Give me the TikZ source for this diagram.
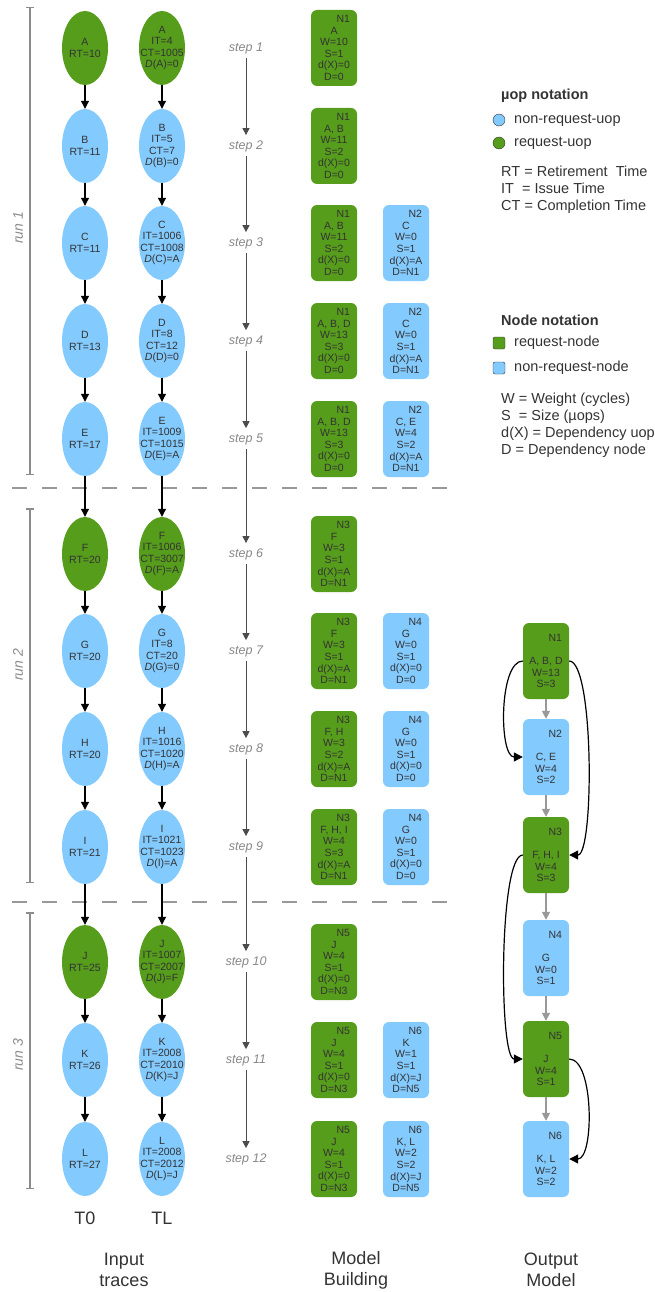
\documentclass[tikz,border=0pt]{standalone}
\usepackage{fontspec}
\setmainfont{Liberation Sans}
\usetikzlibrary{shapes,arrows.meta}
\definecolor{reqgreen}{HTML}{579D1C}
\definecolor{nreqblue}{HTML}{83CAFF}
\definecolor{txtgray}{HTML}{333333}
\definecolor{lightgray}{HTML}{8C8C8C}
\newcommand{\nid}[1]{\makebox[32pt][r]{#1}}

\begin{document}
\begin{tikzpicture}[x=1pt,y=-1pt,
  uop/.style={ellipse,minimum width=46,minimum height=74,inner sep=0},
  requop/.style={uop,fill=reqgreen},
  nrequop/.style={uop,fill=nreqblue},
  utxt/.style={align=center,inner sep=0,text=txtgray,font=\fontsize{10.5}{11.6}\selectfont},
  mnode/.style={rounded corners=6,minimum width=46,minimum height=76,inner sep=0,align=center,text=txtgray,font=\fontsize{10.5}{11.6}\selectfont},
  reqnode/.style={mnode,fill=reqgreen},
  nreqnode/.style={mnode,fill=nreqblue},
  uarrow/.style={-{Triangle[length=8pt,width=8pt]},line width=1.1},
  stp/.style={inner sep=3,text=black!47,font=\fontsize{12.5}{14}\selectfont\itshape},
  sarrow/.style={-{Triangle[length=7pt,width=7pt]},line width=1,draw=black!70,shorten <=1,shorten >=2},
  oarrow/.style={-{Triangle[length=8pt,width=8pt]},line width=1.5,draw=black!40},
  dep/.style={-{Triangle[length=9pt,width=9pt]},line width=1.2},
  runline/.style={draw=lightgray,line width=1.5,{Bar[width=8pt]}-{Bar[width=8pt]}},
  runlbl/.style={rotate=90,text=lightgray,font=\fontsize{14}{16}\selectfont\itshape},
  sep/.style={draw=black!40,line width=1.8,dash pattern=on 15pt off 15pt},
  lgtitle/.style={anchor=west,inner sep=0,text=txtgray,font=\fontsize{14.5}{16.5}\selectfont\bfseries},
  lgtxt/.style={anchor=west,inner sep=0,text=txtgray,font=\fontsize{14.5}{16.8}\selectfont},
  colname/.style={align=center,inner sep=0,text=txtgray,font=\fontsize{18}{21}\selectfont}]
\useasboundingbox (0,0) rectangle (655,1292);
% runs
\draw[runline] (30,7) -- (30,475);
\draw[runline] (30,508) -- (30,883);
\draw[runline] (30,912) -- (30,1189);
\node[runlbl] (run1) at (18,228) {run 1};
\node[runlbl] (run2) at (18,665) {run 2};
\node[runlbl] (run3) at (18,1055) {run 3};
\draw[sep] (12,488) -- (448,488);
\draw[sep] (12,902) -- (448,902);
%
% input traces T0
\node[requop,label={[utxt]center:{A\\RT=10}}] (A0) at (85,48) {};
\node[nrequop,label={[utxt]center:{B\\RT=11}}] (B0) at (85,146) {};
\node[nrequop,label={[utxt]center:{C\\RT=11}}] (C0) at (85,243) {};
\node[nrequop,label={[utxt]center:{D\\RT=13}}] (D0) at (85,341) {};
\node[nrequop,label={[utxt]center:{E\\RT=17}}] (E0) at (85,439) {};
\node[requop,label={[utxt]center:{F\\RT=20}}] (F0) at (85,554) {};
\node[nrequop,label={[utxt]center:{G\\RT=20}}] (G0) at (85,651) {};
\node[nrequop,label={[utxt]center:{H\\RT=20}}] (H0) at (85,749) {};
\node[nrequop,label={[utxt]center:{I\\RT=21}}] (I0) at (85,847) {};
\node[requop,label={[utxt]center:{J\\RT=25}}] (J0) at (85,962) {};
\node[nrequop,label={[utxt]center:{K\\RT=26}}] (K0) at (85,1060) {};
\node[nrequop,label={[utxt]center:{L\\RT=27}}] (L0) at (85,1159) {};
% input traces TL
\node[requop,label={[utxt]center:{A\\IT=4\\CT=1005\\{\itshape D}(A)=0}}] (AL) at (162,48) {};
\node[nrequop,label={[utxt]center:{B\\IT=5\\CT=7\\{\itshape D}(B)=0}}] (BL) at (162,146) {};
\node[nrequop,label={[utxt]center:{C\\IT=1006\\CT=1008\\{\itshape D}(C)=A}}] (CL) at (162,243) {};
\node[nrequop,label={[utxt]center:{D\\IT=8\\CT=12\\{\itshape D}(D)=0}}] (DL) at (162,341) {};
\node[nrequop,label={[utxt]center:{E\\IT=1009\\CT=1015\\{\itshape D}(E)=A}}] (EL) at (162,439) {};
\node[requop,label={[utxt]center:{F\\IT=1006\\CT=3007\\{\itshape D}(F)=A}}] (FL) at (162,554) {};
\node[nrequop,label={[utxt]center:{G\\IT=8\\CT=20\\{\itshape D}(G)=0}}] (GL) at (162,651) {};
\node[nrequop,label={[utxt]center:{H\\IT=1016\\CT=1020\\{\itshape D}(H)=A}}] (HL) at (162,749) {};
\node[nrequop,label={[utxt]center:{I\\IT=1021\\CT=1023\\{\itshape D}(I)=A}}] (IL) at (162,847) {};
\node[requop,label={[utxt]center:{J\\IT=1007\\CT=2007\\{\itshape D}(J)=F}}] (JL) at (162,962) {};
\node[nrequop,label={[utxt]center:{K\\IT=2008\\CT=2010\\{\itshape D}(K)=J}}] (KL) at (162,1060) {};
\node[nrequop,label={[utxt]center:{L\\IT=2008\\CT=2012\\{\itshape D}(L)=J}}] (LL) at (162,1159) {};
\draw[uarrow] (A0) -- (B0); \draw[uarrow] (B0) -- (C0); \draw[uarrow] (C0) -- (D0);
\draw[uarrow] (D0) -- (E0); \draw[uarrow] (E0) -- (F0); \draw[uarrow] (F0) -- (G0);
\draw[uarrow] (G0) -- (H0); \draw[uarrow] (H0) -- (I0); \draw[uarrow] (I0) -- (J0);
\draw[uarrow] (J0) -- (K0); \draw[uarrow] (K0) -- (L0);
\draw[uarrow] (AL) -- (BL); \draw[uarrow] (BL) -- (CL); \draw[uarrow] (CL) -- (DL);
\draw[uarrow] (DL) -- (EL); \draw[uarrow] (EL) -- (FL); \draw[uarrow] (FL) -- (GL);
\draw[uarrow] (GL) -- (HL); \draw[uarrow] (HL) -- (IL); \draw[uarrow] (IL) -- (JL);
\draw[uarrow] (JL) -- (KL); \draw[uarrow] (KL) -- (LL);
\node[colname] (t0) at (85,1218) {T0};
\node[colname] (tl) at (162,1218) {TL};
%
% steps
\node[stp] (s1) at (246,48) {step 1};
\node[stp] (s2) at (246,146) {step 2};
\node[stp] (s3) at (246,243) {step 3};
\node[stp] (s4) at (246,341) {step 4};
\node[stp] (s5) at (246,439) {step 5};
\node[stp] (s6) at (246,554) {step 6};
\node[stp] (s7) at (246,651) {step 7};
\node[stp] (s8) at (246,749) {step 8};
\node[stp] (s9) at (246,847) {step 9};
\node[stp] (s10) at (246,962) {step 10};
\node[stp] (s11) at (246,1060) {step 11};
\node[stp] (s12) at (246,1159) {step 12};
\draw[sarrow] (s1) -- (s2); \draw[sarrow] (s2) -- (s3); \draw[sarrow] (s3) -- (s4);
\draw[sarrow] (s4) -- (s5); \draw[sarrow] (s5) -- (s6); \draw[sarrow] (s6) -- (s7);
\draw[sarrow] (s7) -- (s8); \draw[sarrow] (s8) -- (s9); \draw[sarrow] (s9) -- (s10);
\draw[sarrow] (s10) -- (s11); \draw[sarrow] (s11) -- (s12);
%
% model building
\node[reqnode] (m1a) at (334,48) {\nid{N1}\\A\\W=10\\S=1\\d(X)=0\\D=0};
\node[reqnode] (m2a) at (334,146) {\nid{N1}\\A, B\\W=11\\S=2\\d(X)=0\\D=0};
\node[reqnode] (m3a) at (334,243) {\nid{N1}\\A, B\\W=11\\S=2\\d(X)=0\\D=0};
\node[nreqnode] (m3b) at (406,243) {\nid{N2}\\C\\W=0\\S=1\\d(X)=A\\D=N1};
\node[reqnode] (m4a) at (334,341) {\nid{N1}\\A, B, D\\W=13\\S=3\\d(X)=0\\D=0};
\node[nreqnode] (m4b) at (406,341) {\nid{N2}\\C\\W=0\\S=1\\d(X)=A\\D=N1};
\node[reqnode] (m5a) at (334,439) {\nid{N1}\\A, B, D\\W=13\\S=3\\d(X)=0\\D=0};
\node[nreqnode] (m5b) at (406,439) {\nid{N2}\\C, E\\W=4\\S=2\\d(X)=A\\D=N1};
\node[reqnode] (m6a) at (334,554) {\nid{N3}\\F\\W=3\\S=1\\d(X)=A\\D=N1};
\node[reqnode] (m7a) at (334,651) {\nid{N3}\\F\\W=3\\S=1\\d(X)=A\\D=N1};
\node[nreqnode] (m7b) at (406,651) {\nid{N4}\\G\\W=0\\S=1\\d(X)=0\\D=0};
\node[reqnode] (m8a) at (334,749) {\nid{N3}\\F, H\\W=3\\S=2\\d(X)=A\\D=N1};
\node[nreqnode] (m8b) at (406,749) {\nid{N4}\\G\\W=0\\S=1\\d(X)=0\\D=0};
\node[reqnode] (m9a) at (334,847) {\nid{N3}\\F, H, I\\W=4\\S=3\\d(X)=A\\D=N1};
\node[nreqnode] (m9b) at (406,847) {\nid{N4}\\G\\W=0\\S=1\\d(X)=0\\D=0};
\node[reqnode] (m10a) at (334,962) {\nid{N5}\\J\\W=4\\S=1\\d(X)=0\\D=N3};
\node[reqnode] (m11a) at (334,1060) {\nid{N5}\\J\\W=4\\S=1\\d(X)=0\\D=N3};
\node[nreqnode] (m11b) at (406,1060) {\nid{N6}\\K\\W=1\\S=1\\d(X)=J\\D=N5};
\node[reqnode] (m12a) at (334,1159) {\nid{N5}\\J\\W=4\\S=1\\d(X)=0\\D=N3};
\node[nreqnode] (m12b) at (406,1159) {\nid{N6}\\K, L\\W=2\\S=2\\d(X)=J\\D=N5};
%
% output model
\node[reqnode] (o1) at (546,661) {\nid{N1}\\[11.6pt]A, B, D\\W=13\\S=3};
\node[nreqnode] (o2) at (546,757) {\nid{N2}\\[11.6pt]C, E\\W=4\\S=2};
\node[reqnode] (o3) at (546,855) {\nid{N3}\\[11.6pt]F, H, I\\W=4\\S=3};
\node[nreqnode] (o4) at (546,958) {\nid{N4}\\[11.6pt]G\\W=0\\S=1};
\node[reqnode] (o5) at (546,1059) {\nid{N5}\\[11.6pt]J\\W=4\\S=1};
\node[nreqnode] (o6) at (546,1159) {\nid{N6}\\[11.6pt]K, L\\W=2\\S=2};
\draw[oarrow] (o1) -- (o2); \draw[oarrow] (o2) -- (o3); \draw[oarrow] (o3) -- (o4);
\draw[oarrow] (o4) -- (o5); \draw[oarrow] (o5) -- (o6);
\draw[dep] (o1.west) .. controls +(-24,0) and +(-24,0) .. (o2.west);
\draw[dep] (o1.east) .. controls +(25,0) and +(25,0) .. (o3.east);
\draw[dep] (o3.west) .. controls +(-24,0) and +(-24,0) .. (o5.west);
\draw[dep] (o5.east) .. controls +(25,0) and +(25,0) .. (o6.east);
%
% legend
\node[lgtitle] (uopnot) at (501,96) {µop notation};
\node[circle,draw=txtgray,fill=nreqblue,minimum size=12,inner sep=0] (lgnreq) at (499,120) {};
\node[lgtxt] (lgnreqt) at (514,120) {non-request-uop};
\node[circle,draw=txtgray,fill=reqgreen,minimum size=12,inner sep=0] (lgreq) at (499,143) {};
\node[lgtxt] (lgreqt) at (514,143) {request-uop};
\node[lgtxt,anchor=north west,align=left] (times) at (501,166) {RT = Retirement\ \ Time\\IT\ \ = Issue Time\\CT = Completion Time};
\node[lgtitle] (nodenot) at (501,320) {Node notation};
\node[rounded corners=2,draw=txtgray,fill=reqgreen,minimum size=12,inner sep=0] (lgreqn) at (499,343) {};
\node[lgtxt] (lgreqnt) at (514,343) {request-node};
\node[rounded corners=2,draw=txtgray,fill=nreqblue,minimum size=12,inner sep=0] (lgnreqn) at (499,368) {};
\node[lgtxt] (lgnreqnt) at (514,368) {non-request-node};
\node[lgtxt,anchor=north west,align=left] (sizes) at (501,393) {W = Weight (cycles)\\S\ \ = Size (µops)\\d(X) = Dependency uop\\D = Dependency node};
%
\node[colname] (inp) at (124,1270) {Input\\traces};
\node[colname] (bld) at (356,1270) {Model\\Building};
\node[colname] (outm) at (551,1270) {Output\\Model};
\end{tikzpicture}
\end{document}
